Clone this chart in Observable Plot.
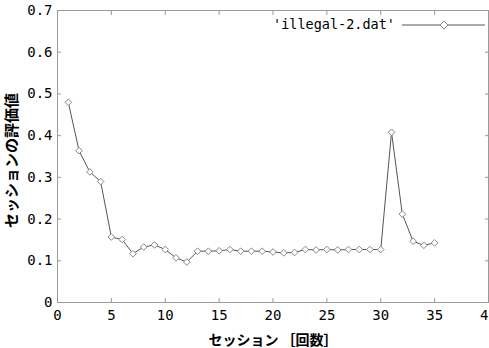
<!DOCTYPE html>
<html><head><meta charset="utf-8">
<script src="https://cdn.jsdelivr.net/npm/d3@7"></script>
<script src="https://cdn.jsdelivr.net/npm/@observablehq/plot@0.6"></script>
<style>
body{margin:0;background:#fff;}
#wrap{position:relative;width:489px;height:348px;font-family:"Noto Sans CJK JP",sans-serif;}
#legend{position:absolute;left:260px;top:15px;width:229px;height:20px;font-family:"DejaVu Sans Mono",monospace;font-size:13.5px;}
#legend span{position:absolute;right:94px;top:1px;white-space:nowrap;}
#legend svg{position:absolute;left:142px;top:2px;}
</style>
</head><body>
<div id="wrap"><div id="legend"><span>'illegal-2.dat'</span><svg width="84" height="16"><line x1="0" y1="8" x2="83" y2="8" stroke="#555" stroke-width="1"/><path d="M42,4L46,8L42,12L38,8Z" fill="#fff" stroke="#888"/></svg></div></div>
<script>
const sessions = [1,2,3,4,5,6,7,8,9,10,11,12,13,14,15,16,17,18,19,20,21,22,23,24,25,26,27,28,29,30,31,32,33,34,35];
const values = [0.480,0.364,0.313,0.290,0.157,0.151,0.117,0.133,0.138,0.127,0.107,0.097,0.123,0.123,0.124,0.127,0.123,0.123,0.123,0.121,0.119,0.120,0.127,0.126,0.127,0.126,0.127,0.127,0.127,0.127,0.408,0.212,0.147,0.137,0.143];
const xTicks = [0,5,10,15,20,25,30,35,40];
const yTicks = [0,0.1,0.2,0.3,0.4,0.5,0.6,0.7];
const data = sessions.map((s,i)=>({x:s,y:values[i]}));
const fmtY = d => d === 0 ? "0" : d.toFixed(1);
const mono = '"DejaVu Sans Mono", monospace';
const chart = Plot.plot({
  width: 489, height: 348,
  marginLeft: 57, marginRight: 1, marginTop: 10, marginBottom: 46,
  style: {fontFamily: '"Noto Sans CJK JP", sans-serif', fontSize: "14px", background: "#fff", color: "#000"},
  x: {domain: [0,40], ticks: xTicks},
  y: {domain: [0,0.7], ticks: yTicks},
  marks: [
    Plot.frame({stroke: "#999"}),
    Plot.axisX({ticks: xTicks, tickSize: -4, tickPadding: 12, stroke: "#999", tickFormat: d=>String(d), label: null, fontSize: 14, fontFamily: mono}),
    Plot.axisX({ticks: xTicks, anchor: "top", tickSize: -4, stroke: "#999", tickFormat: () => "", label: null}),
    Plot.axisY({ticks: yTicks, tickSize: -4, tickPadding: 9, stroke: "#999", tickFormat: fmtY, label: null, fontSize: 14, fontFamily: mono}),
    Plot.axisY({ticks: yTicks, anchor: "right", tickSize: -4, stroke: "#999", tickFormat: () => "", label: null}),
    Plot.text(["セッション ［回数］"], {frameAnchor: "bottom", dy: 42, fontWeight: "bold", fontSize: 14}),
    Plot.text(["セッションの評価値"], {frameAnchor: "left", textAnchor: "middle", dx: -45, dy: 4, rotate: -90, fontWeight: "bold", fontSize: 15}),
    Plot.line(data, {x: "x", y: "y", stroke: "#555", strokeWidth: 1}),
    Plot.dot(data, {x: "x", y: "y", symbol: "diamond2", r: 3, fill: "#fff", stroke: "#888", strokeWidth: 1})
  ]
});
document.getElementById("wrap").prepend(chart);
</script>
</body></html>
